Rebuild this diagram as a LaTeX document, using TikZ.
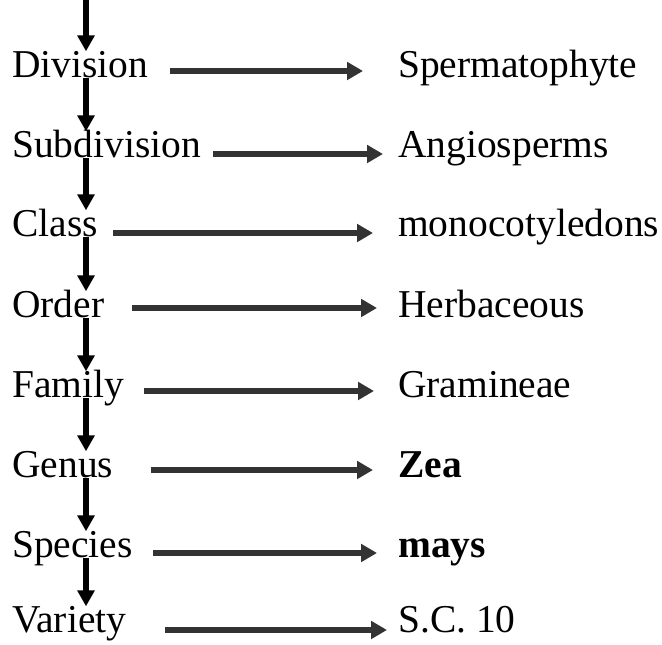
\documentclass[tikz,border=0pt]{standalone}
\usepackage{fontspec}
\setmainfont{Liberation Serif}
\usetikzlibrary{arrows.meta}

\begin{document}
\begin{tikzpicture}[x=0.75pt, y=-0.75pt,
    rankText/.style={inner sep=0pt, text height=19.6pt, text depth=0pt, anchor=south west,
      font=\fontsize{29.6pt}{35pt}\selectfont},
    downArrow/.style={line width=4.4pt, black, -{Triangle[length=12pt, width=12.5pt]}},
    sideArrow/.style={line width=4.2pt, draw=arrowColour, -{Triangle[length=12pt, width=13pt, fill=arrowColour]}}]
    % Define colours
    \definecolor{arrowColour}{HTML}{333333}

    % Macros for the columns
    \def\leftX{12} % X of the rank names
    \def\rightX{398} % X of the taxa
    \def\stemX{86} % X of the vertical arrows

    % Fix the page size
    \useasboundingbox (0,0) rectangle (662,645);

    % Rows: number / baseline / rank / taxon / arrow start / arrow tip / arrow height
    \foreach \i/\baseY/\rankName/\taxonName/\startX/\tipX/\arrowY in {
        1/78/Division/Spermatophyte/170/363/71,
        2/158/Subdivision/Angiosperms/213/383/154,
        3/237/Class/monocotyledons/113/373/233,
        4/318/Order/Herbaceous/132/377/308,
        5/398/Family/Gramineae/144/374/391,
        6/478/Genus/{\textbf{Zea}}/151/373/470,
        7/558/Species/{\textbf{mays}}/153/377/553,
        8/633/Variety/S.C. 10/165/387/630}
    {
        \node[rankText] (rank\i) at (\leftX,\baseY) {\rankName};
        \node[rankText] (taxon\i) at (\rightX,\baseY) {\taxonName};
        \coordinate (from\i) at (\startX,\arrowY);
        \coordinate (to\i) at (\tipX,\arrowY);
        \draw[sideArrow] (from\i) -- (to\i);
    }

    % Vertical chain of arrows, drawn over the rank names
    \coordinate (stemTop) at (\stemX,0);
    \draw[downArrow] (stemTop) -- (rank1.north -| stemTop);
    \foreach \i [count=\j from 2] in {1,...,7}
        \draw[downArrow] (rank\i.south -| stemTop) -- (rank\j.north -| stemTop);

\end{tikzpicture}
\end{document}
